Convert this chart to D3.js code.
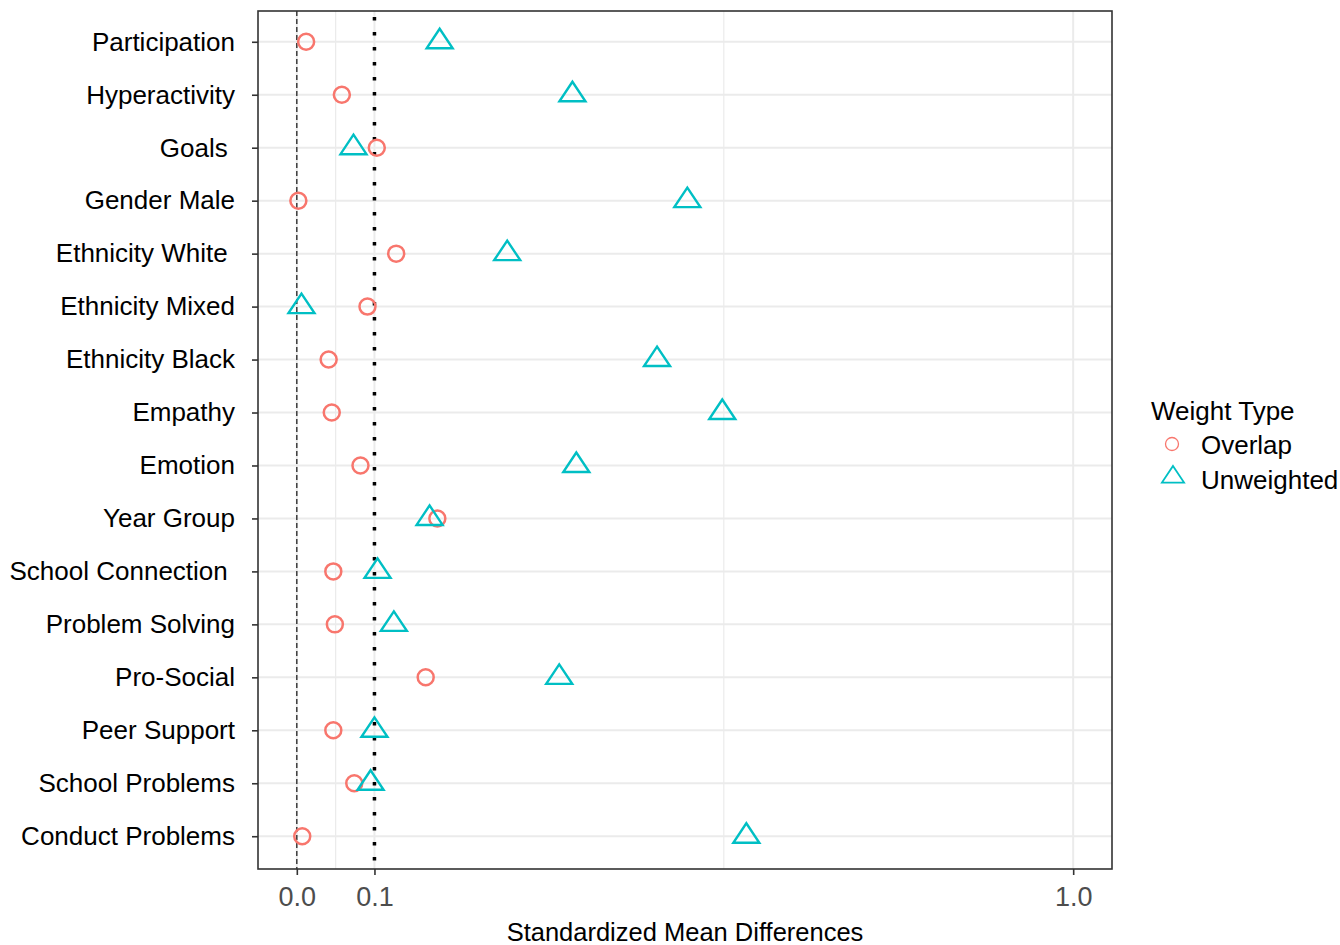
<!DOCTYPE html>
<html>
<head>
<meta charset="utf-8">
<script src="https://cdn.jsdelivr.net/npm/d3@7"></script>
<style>
  html, body { margin: 0; padding: 0; background: #fff; }
  svg { display: block; font-family: Arial, "Liberation Sans", sans-serif; }
  text { white-space: pre; }
</style>
</head>
<body>
<div id="chart"></div>
<script>
// covariates, top to bottom (trailing spaces are in the original labels)
const covariates = ['Participation', 'Hyperactivity', 'Goals ', 'Gender Male', 'Ethnicity White ',
  'Ethnicity Mixed', 'Ethnicity Black', 'Empathy', 'Emotion', 'Year Group', 'School Connection ',
  'Problem Solving', 'Pro-Social', 'Peer Support', 'School Problems', 'Conduct Problems'];
// absolute standardized mean differences
const overlap    = [0.012, 0.058, 0.103, 0.002, 0.128, 0.091, 0.041, 0.045, 0.082, 0.181,
  0.047, 0.049, 0.166, 0.047, 0.074, 0.007];
const unweighted = [0.184, 0.355, 0.073, 0.503, 0.271, 0.006, 0.464, 0.548, 0.360, 0.171,
  0.104, 0.125, 0.338, 0.100, 0.095, 0.579];
const xBreaks = [0, 0.1, 1.0];
const xMinor = [0.05, 0.55];
const series = [
  { name: 'Overlap', values: overlap, color: '#F8766D', shape: 'circle' },
  { name: 'Unweighted', values: unweighted, color: '#00BFC4', shape: 'triangle' }
];

const W = 1340, H = 945;
const m = { t: 11, r: 228, b: 76, l: 258 };
const svg = d3.select('#chart').append('svg').attr('width', W).attr('height', H);

const x = d3.scaleLinear().domain([-0.05, 1.05]).range([m.l, W - m.r]);
const y = d3.scalePoint().domain(covariates).range([m.t - 1, H - m.b - 1]).padding(0.6);

// grid
const grid = svg.append('g');
grid.selectAll('line.minor').data(xMinor).join('line')
  .attr('x1', d => x(d)).attr('x2', d => x(d)).attr('y1', m.t).attr('y2', H - m.b)
  .attr('stroke', '#ebebeb').attr('stroke-width', 1.2);
grid.selectAll('line.vmaj').data(xBreaks).join('line')
  .attr('x1', d => x(d)).attr('x2', d => x(d)).attr('y1', m.t).attr('y2', H - m.b)
  .attr('stroke', '#ebebeb').attr('stroke-width', 2);
grid.selectAll('line.hmaj').data(covariates).join('line')
  .attr('x1', m.l).attr('x2', W - m.r).attr('y1', d => y(d)).attr('y2', d => y(d))
  .attr('stroke', '#ebebeb').attr('stroke-width', 2);

// reference lines
svg.append('line').attr('x1', x(0)).attr('x2', x(0)).attr('y1', m.t).attr('y2', H - m.b)
  .attr('stroke', '#222').attr('stroke-width', 1.3).attr('stroke-dasharray', '5 3');
svg.append('line').attr('x1', x(0.1)).attr('x2', x(0.1)).attr('y1', m.t + 6).attr('y2', H - m.b)
  .attr('stroke', '#000').attr('stroke-width', 3.5).attr('stroke-dasharray', '3.5 11.5');

// points
const tri = s => `M0,${-13 * s}L${13 * s},${6.5 * s}L${-13 * s},${6.5 * s}Z`;
series.forEach(sr => {
  const g = svg.append('g');
  const pts = covariates.map((c, i) => ({ c, v: sr.values[i] }));
  if (sr.shape === 'circle') {
    g.selectAll('circle').data(pts).join('circle')
      .attr('cx', d => x(d.v)).attr('cy', d => y(d.c)).attr('r', 8)
      .attr('fill', 'none').attr('stroke', sr.color).attr('stroke-width', 2.5);
  } else {
    g.selectAll('path').data(pts).join('path')
      .attr('transform', d => `translate(${x(d.v)},${y(d.c)})`).attr('d', tri(1))
      .attr('fill', 'none').attr('stroke', sr.color).attr('stroke-width', 2.4);
  }
});

// panel border
svg.append('rect').attr('x', m.l).attr('y', m.t).attr('width', W - m.r - m.l).attr('height', H - m.b - m.t)
  .attr('fill', 'none').attr('stroke', '#333').attr('stroke-width', 1.6);

// axes
const xa = svg.append('g').attr('transform', `translate(0,${H - m.b})`)
  .call(d3.axisBottom(x).tickValues(xBreaks).tickFormat(d3.format('.1f')).tickSize(6).tickPadding(12));
xa.select('.domain').remove();
xa.selectAll('line').attr('stroke', '#333').attr('stroke-width', 1.6);
xa.selectAll('text').attr('fill', '#4d4d4d').attr('font-size', 27).attr('font-family', null);

const ya = svg.append('g').attr('transform', `translate(${m.l},0)`)
  .call(d3.axisLeft(y).tickSize(6).tickPadding(17));
ya.select('.domain').remove();
ya.selectAll('line').attr('stroke', '#333').attr('stroke-width', 1.6);
ya.selectAll('text').attr('fill', '#000').attr('font-size', 26).attr('font-family', null);

svg.append('text').attr('x', (m.l + W - m.r) / 2).attr('y', 941)
  .attr('text-anchor', 'middle').attr('font-size', 25.5).attr('fill', '#000')
  .text('Standardized Mean Differences');

// legend
const lg = svg.append('g').attr('transform', 'translate(1151,0)');
lg.append('text').attr('x', 0).attr('y', 420).attr('font-size', 26).text('Weight Type');
series.forEach((sr, i) => {
  const cy = 444 + i * 31;
  if (sr.shape === 'circle') {
    lg.append('circle').attr('cx', 21).attr('cy', cy).attr('r', 6.5)
      .attr('fill', 'none').attr('stroke', sr.color).attr('stroke-width', 1.3);
  } else {
    lg.append('path').attr('transform', `translate(22,${cy + 2})`).attr('d', tri(0.85))
      .attr('fill', 'none').attr('stroke', sr.color).attr('stroke-width', 1.8);
  }
  lg.append('text').attr('x', 50).attr('y', cy + 10 + i * 4).attr('font-size', 26).text(sr.name);
});
</script>
</body>
</html>
